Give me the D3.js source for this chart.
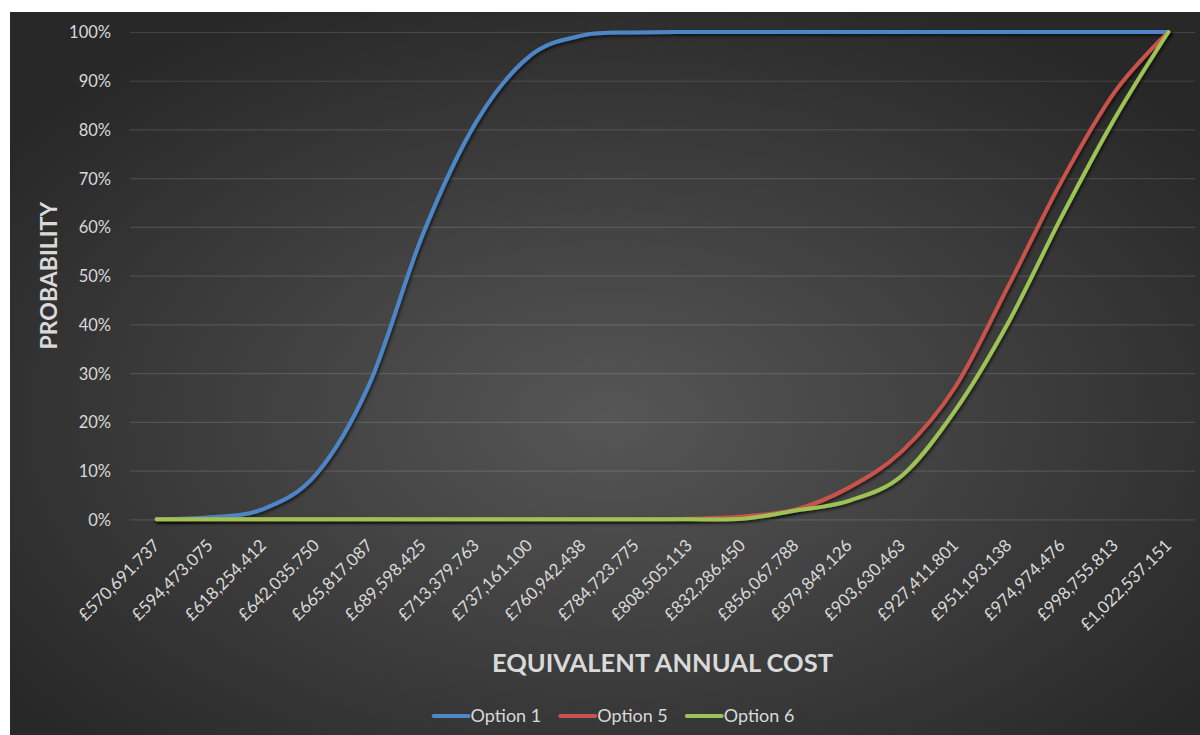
<!DOCTYPE html>
<html>
<head>
<meta charset="utf-8">
<script src="https://cdn.jsdelivr.net/npm/d3@7"></script>
<style>
  html, body { margin: 0; padding: 0; background: #ffffff; }
  svg { display: block; }
</style>
</head>
<body>
<svg id="chart" width="1200" height="735"></svg>
<script>
// ---- data ----
const categories = ["£570,691.737", "£594,473.075", "£618,254.412", "£642,035.750", "£665,817.087",
  "£689,598.425", "£713,379.763", "£737,161.100", "£760,942.438", "£784,723.775",
  "£808,505.113", "£832,286.450", "£856,067.788", "£879,849.126", "£903,630.463",
  "£927,411.801", "£951,193.138", "£974,974.476", "£998,755.813", "£1,022,537.151"];
const option1 = [0, 0.4, 2.1, 9.3, 27.9, 58.5, 81.5, 95.0, 99.3, 99.9, 100, 100, 100, 100, 100, 100, 100, 100, 100, 100];
const option5 = [0, 0, 0, 0, 0, 0, 0, 0, 0, 0, 0.1, 0.6, 2.0, 6.5, 14.0, 27.2, 48.0, 69.5, 87.8, 100];
const option6 = [0, 0, 0, 0, 0, 0, 0, 0, 0, 0, 0, 0.1, 1.8, 3.8, 9.0, 22.4, 40.5, 62.2, 82.4, 100];
const seriesNames = ["Option 1", "Option 5", "Option 6"];
const seriesColors = ["#4e86c8", "#c9524c", "#9dc355"];
const yTicks = [0, 10, 20, 30, 40, 50, 60, 70, 80, 90, 100];
const yTitle = "PROBABILITY";
const xTitle = "EQUIVALENT ANNUAL COST";

const seriesValues = [option1, option5, option6];

const svg = d3.select("#chart");
const defs = svg.append("defs");

// background gradient
const grad = defs.append("radialGradient")
  .attr("id", "bg").attr("cx", 0.5).attr("cy", 0.55).attr("r", 0.62);
grad.append("stop").attr("offset", "0%").attr("stop-color", "#565656");
grad.append("stop").attr("offset", "100%").attr("stop-color", "#282828");

const shadow = defs.append("filter").attr("id", "shadow")
  .attr("x", "-5%").attr("y", "-5%").attr("width", "110%").attr("height", "110%");
shadow.append("feDropShadow").attr("dx", 1.5).attr("dy", 2).attr("stdDeviation", 1.5)
  .attr("flood-color", "#000").attr("flood-opacity", 0.6);

svg.append("rect").attr("x", 10).attr("y", 12).attr("width", 1200).attr("height", 740)
  .attr("fill", "url(#bg)");

const plotLeft = 130, plotRight = 1195, plotTop = 32, plotBottom = 519.3;

const x = d3.scaleBand().domain(categories).range([plotLeft, plotRight]);
const y = d3.scaleLinear().domain([0, 100]).range([plotBottom, plotTop]);
const cx = c => x(c) + x.bandwidth() / 2;

const font = "Lato, 'Open Sans', sans-serif";
const labelColor = "#d9d9d9";

// y axis with gridlines
const yAxis = svg.append("g").attr("transform", `translate(${plotLeft},0)`)
  .call(d3.axisLeft(y).tickValues(yTicks).tickSize(-(plotRight - plotLeft)).tickPadding(19)
    .tickFormat(d => d + "%"));
yAxis.select(".domain").remove();
yAxis.selectAll(".tick line").attr("stroke", "#ffffff").attr("stroke-opacity", 0.13).attr("stroke-width", 1.2);
yAxis.selectAll(".tick text").attr("fill", labelColor).attr("font-family", font)
  .attr("font-size", "16.5px").attr("dy", "0.36em");

// x axis labels
const xAxis = svg.append("g").attr("transform", `translate(0,${plotBottom})`)
  .call(d3.axisBottom(x).tickSize(0));
xAxis.select(".domain").remove();
xAxis.selectAll(".tick text")
  .attr("fill", labelColor).attr("font-family", font).attr("font-size", "17px")
  .attr("text-anchor", "end").attr("x", 0).attr("y", 0).attr("dy", "0.35em")
  .attr("transform", "translate(0,23) rotate(-45)");

// lines
const line = d3.line()
  .x((d, i) => cx(categories[i]))
  .y(d => y(d))
  .curve(d3.curveCardinal.tension(0));

svg.append("g").selectAll("path").data(seriesValues).join("path")
  .attr("d", d => line(d))
  .attr("fill", "none")
  .attr("stroke", (d, i) => seriesColors[i])
  .attr("stroke-width", 4)
  .attr("stroke-linecap", "round")
  .attr("stroke-linejoin", "round")
  .attr("filter", "url(#shadow)");

// axis titles
svg.append("text").text(yTitle)
  .attr("transform", `translate(49,${(plotTop + plotBottom) / 2}) rotate(-90)`)
  .attr("text-anchor", "middle").attr("dy", "0.36em")
  .attr("fill", labelColor).attr("font-family", font).attr("font-weight", "bold")
  .attr("font-size", "23px");

svg.append("text").text(xTitle)
  .attr("x", (plotLeft + plotRight) / 2).attr("y", 662.5)
  .attr("text-anchor", "middle").attr("dy", "0.36em")
  .attr("fill", labelColor).attr("font-family", font).attr("font-weight", "bold")
  .attr("font-size", "25.5px");

// legend
const legend = svg.append("g");
const items = legend.selectAll("g").data(seriesNames).join("g");
items.append("line").attr("x1", 0).attr("x2", 35).attr("y1", 0).attr("y2", 0)
  .attr("stroke", (d, i) => seriesColors[i]).attr("stroke-width", 4).attr("stroke-linecap", "round");
items.append("text").text(d => d).attr("x", 37).attr("dy", "0.35em")
  .attr("fill", labelColor).attr("font-family", font).attr("font-size", "18px");
let offset = 0;
const widths = [];
items.each(function () {
  const w = 37 + d3.select(this).select("text").node().getComputedTextLength();
  widths.push(w);
});
const gap = 19;
const total = d3.sum(widths) + gap * (widths.length - 1);
let startX = 614 - total / 2;
items.attr("transform", (d, i) => {
  const t = `translate(${startX + offset},716)`;
  offset += widths[i] + gap;
  return t;
});
</script>
</body>
</html>
